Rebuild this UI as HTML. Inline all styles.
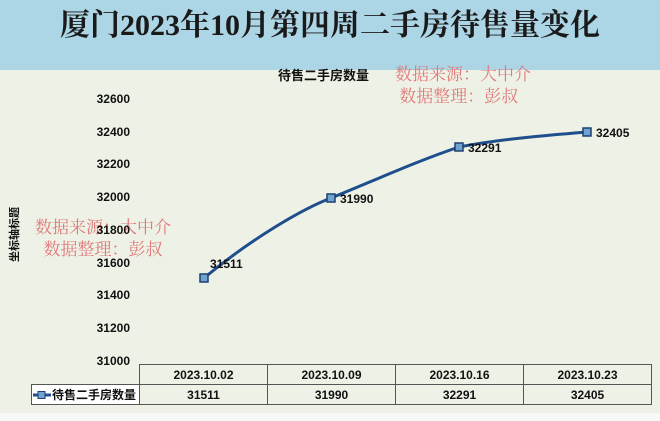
<!DOCTYPE html><html><head><meta charset="utf-8"><style>
body{margin:0;width:660px;height:421px;overflow:hidden;background:#eef2e6;font-family:"Liberation Sans","Noto Sans CJK SC",sans-serif;position:relative}
.t{position:absolute;left:0;top:0;width:660px;height:70px;background:#acd5e6;text-align:center;line-height:70px;font:bold 30px "Liberation Serif","Noto Serif CJK SC",serif;color:#1a1a1a}
.a{position:absolute;font-weight:bold;font-size:12px;color:#111}
.wm{position:absolute;color:#e07a7a;font:17px "Liberation Serif","Noto Serif CJK SC",serif;line-height:22px}
table{position:absolute;left:31px;top:364px;border-collapse:collapse;font-weight:bold;font-size:12px;table-layout:fixed}
td{border:1px solid #555;height:19px;text-align:center;padding:0;color:#111;white-space:nowrap;overflow:hidden}
</style></head><body>
<div class="t">厦门2023年10月第四周二手房待售量变化</div>
<div class="a" style="left:278px;top:65px;font-size:13px">待售二手房数量</div>
<div class="wm" style="left:395px;top:64px">数据来源：大中介<br>&nbsp;数据整理：彭叔</div>
<div class="wm" style="left:35px;top:217px">数据来源：大中介<br>&nbsp;&nbsp;数据整理：彭叔</div>
<div class="a" style="left:6px;transform:rotate(-90deg);transform-origin:0 0;font-size:11px;top:262px">坐标轴标题</div>
<div class="a" style="right:530px;top:92px">32600</div>
<div class="a" style="right:530px;top:125px">32400</div>
<div class="a" style="right:530px;top:157px">32200</div>
<div class="a" style="right:530px;top:190px">32000</div>
<div class="a" style="right:530px;top:223px">31800</div>
<div class="a" style="right:530px;top:256px">31600</div>
<div class="a" style="right:530px;top:288px">31400</div>
<div class="a" style="right:530px;top:321px">31200</div>
<div class="a" style="right:530px;top:354px">31000</div>
<svg style="position:absolute;left:0;top:0" width="660" height="421">
<path d="M204,278 C250,240 300,210 331,198 C380,178 420,160 459,147 C500,139 550,135 587,132" fill="none" stroke="#1f4e8c" stroke-width="3"/>
<g fill="#6fa3d2" stroke="#1f3f70" stroke-width="1.5">
<rect x="200" y="274" width="8" height="8"/><rect x="327" y="194" width="8" height="8"/><rect x="455" y="143" width="8" height="8"/><rect x="583" y="128" width="8" height="8"/></g>
<g font-family="Liberation Sans" font-weight="bold" font-size="12" fill="#111">
<text x="210" y="268">31511</text><text x="340" y="203">31990</text><text x="468" y="152">32291</text><text x="596" y="137">32405</text></g>
</svg>
<table><colgroup><col style="width:108px"><col style="width:128px"><col style="width:128px"><col style="width:128px"><col style="width:128px"></colgroup>
<tr><td style="border:none;border-right:1px solid #555"></td><td>2023.10.02</td><td>2023.10.09</td><td>2023.10.16</td><td>2023.10.23</td></tr>
<tr><td style="text-align:left;background:#fff"><svg width="20" height="10" style="vertical-align:-1px"><line x1="1" y1="5" x2="19" y2="5" stroke="#1f4e8c" stroke-width="3"/><rect x="6" y="1.5" width="7" height="7" fill="#6fa3d2" stroke="#1f3f70"/></svg>待售二手房数量</td><td>31511</td><td>31990</td><td>32291</td><td>32405</td></tr></table>
<div style="position:absolute;left:0;top:413px;width:660px;height:8px;background:#f8f8f8"></div>
</body></html>
